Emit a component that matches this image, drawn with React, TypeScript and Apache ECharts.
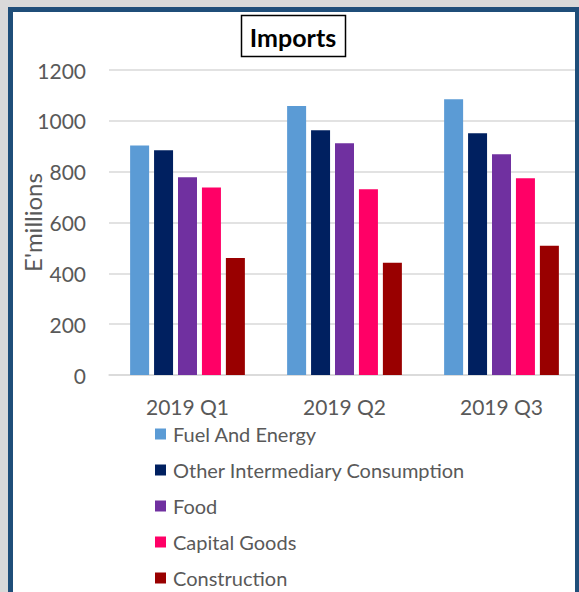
import React, { useEffect, useRef } from "react";
import * as echarts from "echarts";

const quarters = ["2019 Q1", "2019 Q2", "2019 Q3"];
const fuelAndEnergy = [903, 1058, 1085];
const otherIntermediary = [884, 963, 951];
const food = [778, 912, 869];
const capitalGoods = [738, 731, 774];
const construction = [460, 442, 509];

const seriesNames = [
  "Fuel And Energy",
  "Other Intermediary Consumption",
  "Food",
  "Capital Goods",
  "Construction",
];
const seriesColors = ["#5b9bd5", "#002060", "#7030a0", "#ff0066", "#990000"];
const seriesValues = [fuelAndEnergy, otherIntermediary, food, capitalGoods, construction];

const FONT = "Lato, 'Open Sans', sans-serif";

export default function App() {
  const ref = useRef<HTMLDivElement>(null);

  useEffect(() => {
    if (!ref.current) return;
    const chart = echarts.init(ref.current, undefined, { renderer: "svg" });
    chart.setOption({
      animation: false,
      backgroundColor: "#d9d9d9",
      graphic: [
        {
          // white panel behind the plot
          type: "rect",
          z: -10,
          shape: { x: 10.5, y: 9.5, width: 567, height: 600 },
          style: { fill: "#ffffff" },
          silent: true,
        },
        {
          // dark blue frame drawn above gridlines
          type: "rect",
          z: 100,
          shape: { x: 10.5, y: 9.5, width: 567, height: 600 },
          style: { fill: "none", stroke: "#1f4e79", lineWidth: 5 },
          silent: true,
        },
        {
          type: "rect",
          shape: { x: 241.5, y: 15.5, width: 104, height: 41 },
          style: { fill: "#ffffff", stroke: "#000000", lineWidth: 1.5 },
          silent: true,
        },
        {
          type: "text",
          x: 293,
          y: 37,
          style: {
            text: "Imports",
            fill: "#000000",
            font: `bold 25px ${FONT}`,
            align: "center",
            verticalAlign: "middle",
          },
          silent: true,
        },
      ],
      grid: {
        left: 109,
        top: 70,
        width: 471,
        height: 305,
        outerBoundsMode: "none",
      },
      legend: {
        orient: "vertical",
        left: 155,
        top: 423,
        padding: 0,
        icon: "rect",
        itemWidth: 11,
        itemHeight: 11,
        itemGap: 14,
        data: seriesNames,
        textStyle: {
          color: "#595959",
          fontSize: 20,
          lineHeight: 22,
          fontFamily: FONT,
          padding: [0, 0, 0, 2],
        },
      },
      xAxis: {
        type: "category",
        data: quarters,
        axisLine: { show: true, lineStyle: { color: "#d9d9d9", width: 1.5 } },
        axisTick: { show: false },
        axisLabel: {
          color: "#595959",
          fontSize: 21,
          fontFamily: FONT,
          margin: 21,
        },
      },
      yAxis: {
        type: "value",
        min: 0,
        max: 1200,
        interval: 200,
        name: "E'millions",
        nameLocation: "middle",
        nameGap: 65,
        nameMoveOverlap: false,
        nameTextStyle: { color: "#595959", fontSize: 24, fontFamily: FONT },
        axisLine: { show: false },
        axisTick: { show: false },
        splitLine: { lineStyle: { color: "#d9d9d9", width: 1.5 } },
        axisLabel: {
          color: "#595959",
          fontSize: 21,
          fontFamily: FONT,
          margin: 23,
          formatter: (v: number) => String(v),
        },
      },
      series: seriesNames.map((name, i) => ({
        type: "bar",
        name,
        data: seriesValues[i],
        barWidth: 19,
        barGap: "26%",
        itemStyle: { color: seriesColors[i] },
      })),
    });
    return () => chart.dispose();
  }, []);

  return (
    <div
      ref={ref}
      style={{ position: "fixed", left: 0, top: 0, width: 579, height: 592 }}
    />
  );
}
